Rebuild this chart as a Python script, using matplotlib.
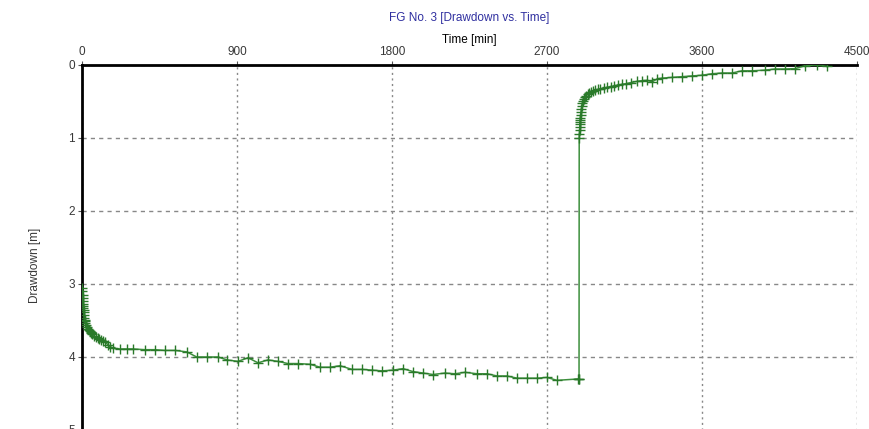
import numpy as np
import matplotlib.pyplot as plt

# pumping phase (time in min, drawdown in m)
t_pump = [1, 2, 3, 4, 5, 6, 7, 8, 9, 10, 12, 14, 16, 18, 20, 25, 30, 35, 40, 45,
          50, 55, 60, 70, 80, 90, 100, 110, 120, 135, 150, 165, 180,
          220, 259, 298, 366, 424, 482, 540, 608, 666, 724, 790, 842, 906, 964,
          1022, 1080, 1138, 1196, 1254, 1324, 1382, 1440, 1498, 1568, 1626, 1684,
          1742, 1806, 1864, 1922, 1980, 2038, 2108, 2166, 2224, 2294, 2352, 2410,
          2468, 2526, 2584, 2642, 2700, 2758, 2880, 2883, 2886]
d_pump = [3.05, 3.10, 3.15, 3.19, 3.23, 3.27, 3.30, 3.33, 3.36, 3.39, 3.43, 3.46,
          3.49, 3.51, 3.53, 3.56, 3.59, 3.61, 3.63, 3.65, 3.66, 3.67, 3.68, 3.71,
          3.73, 3.74, 3.75, 3.77, 3.78, 3.80, 3.83, 3.86, 3.88,
          3.89, 3.89, 3.89, 3.90, 3.90, 3.91, 3.91, 3.93, 4.00, 4.00, 4.00, 4.04,
          4.06, 4.01, 4.08, 4.04, 4.06, 4.09, 4.09, 4.10, 4.14, 4.14, 4.12, 4.17,
          4.17, 4.18, 4.19, 4.18, 4.16, 4.20, 4.22, 4.24, 4.22, 4.23, 4.21, 4.23,
          4.23, 4.26, 4.26, 4.29, 4.29, 4.29, 4.28, 4.32, 4.30, 4.30, 4.30]

# recovery phase
t_rec = [2887, 2888, 2889, 2890, 2891, 2892, 2893, 2894, 2896, 2898, 2900, 2903,
         2906, 2910, 2915, 2920, 2928, 2936, 2945, 2955, 2967, 2980, 2995, 3010,
         3030, 3050, 3070, 3090, 3110, 3135, 3160, 3190, 3220, 3250, 3281, 3310,
         3340, 3368, 3426, 3484, 3542, 3600, 3658, 3716, 3774, 3832, 3890, 3966,
         4024, 4082, 4140, 4198, 4268, 4326]
d_rec = [1.00, 0.94, 0.89, 0.85, 0.81, 0.78, 0.75, 0.72, 0.68, 0.64, 0.60, 0.56,
         0.52, 0.49, 0.46, 0.44, 0.42, 0.40, 0.385, 0.37, 0.36, 0.345, 0.335, 0.325,
         0.315, 0.305, 0.295, 0.285, 0.275, 0.265, 0.255, 0.24, 0.225, 0.215, 0.21,
         0.23, 0.19, 0.18, 0.17, 0.16, 0.15, 0.14, 0.12, 0.11, 0.11, 0.08, 0.08,
         0.07, 0.055, 0.055, 0.05, 0.01, 0.0, 0.02]

x_ticks = [0, 900, 1800, 2700, 3600, 4500]
y_ticks = [0, 1, 2, 3, 4, 5]

plt.rcParams['font.family'] = ['Liberation Sans', 'DejaVu Sans']

fig = plt.figure(figsize=(8.69, 4.29), dpi=100)
ax = fig.add_axes([82 / 869, -0.0023, 775 / 869, 0.8508])

t_all = t_pump + t_rec
d_all = d_pump + d_rec
ax.plot(t_all, d_all, color='#3d8f3d', linewidth=1.1, marker='+',
        markersize=6.5, markeredgewidth=1.0, markeredgecolor='#2a7a2a', zorder=3)

ax.set_xlim(0, 4500)
ax.set_ylim(5, 0)
ax.set_xticks(x_ticks)
ax.set_yticks(y_ticks)
ax.xaxis.tick_top()
ax.xaxis.set_label_position('top')
ax.tick_params(axis='both', labelsize=8.5, labelcolor='#383838', length=3,
               width=0.8, color='#555555', pad=2)

# grid: dotted verticals, dashed horizontals
ax.xaxis.grid(True, linestyle=(0, (1.5, 2.5)), color='#888888', linewidth=1.0)
ax.yaxis.grid(True, linestyle=(0, (3, 3)), color='#888888', linewidth=1.0)
ax.set_axisbelow(True)

ax.spines['left'].set_linewidth(2)
ax.spines['top'].set_linewidth(2)
ax.spines['right'].set_visible(False)
ax.spines['bottom'].set_color('#999999')

ax.set_xlabel('Time [min]', fontsize=8.5, labelpad=2)
fig.text(469 / 869, 1 - 18 / 429, 'FG No. 3 [Drawdown vs. Time]', color='#3030a0',
         fontsize=8.5, ha='center', va='center')
fig.text(35 / 869, 1 - 265 / 429, 'Drawdown [m]', fontsize=8.5, rotation=90,
         ha='center', va='center', color='#383838')

fig.savefig('out.png', dpi=100)
plt.close()
